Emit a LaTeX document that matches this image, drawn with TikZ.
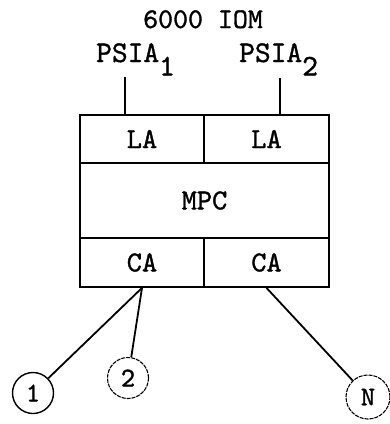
\documentclass[tikz,border=0pt]{standalone}
\usepackage{fontspec}
\setmainfont{lmmono10-regular.otf}[FakeBold=1.2]
\begin{document}
\begin{tikzpicture}[x=1pt,y=-1pt,
  cell/.style={draw,line width=1.8pt,rectangle,inner sep=0pt,font=\fontsize{29}{29}\selectfont},
  lbl/.style={inner sep=0pt,font=\fontsize{28.5}{28.5}\selectfont},
  wire/.style={line width=1.8pt},
  term/.style={circle,draw,line width=1.4pt,minimum size=41pt,inner sep=0pt,font=\fontsize{27}{27}\selectfont},
  faint/.style={dash pattern=on 4pt off 1pt,line width=1.1pt}]
\useasboundingbox (0,0) rectangle (390,424);
\node[lbl,anchor=base] (title) at (203,28) {6000 IOM};
\node[lbl,anchor=base west,font=\fontsize{30}{30}\selectfont] (psia1) at (96,62) {PSIA\raisebox{-0.45em}{1}};
\node[lbl,anchor=base west,font=\fontsize{30}{30}\selectfont] (psia2) at (239,62) {PSIA\raisebox{-0.45em}{2}};
\node[cell,minimum width=124pt,minimum height=48pt] (LA1) at (142,139) {LA};
\node[cell,minimum width=125pt,minimum height=48pt] (LA2) at (266.5,139) {LA};
\node[cell,minimum width=249pt,minimum height=75pt] (MPC) at (204.5,200.5) {MPC};
\node[cell,minimum width=124pt,minimum height=49pt] (CA1) at (142,262.5) {CA};
\node[cell,minimum width=125pt,minimum height=49pt] (CA2) at (266.5,262.5) {CA};
\coordinate (p1) at (125,77);
\coordinate (p2) at (280,78);
\draw[wire] (p1) -- (p1 |- LA1.north);
\draw[wire] (p2) -- (p2 |- LA2.north);
\node[term] (c1) at (33,393) {1};
\node[term,faint] (c2) at (128,378) {2};
\node[term,faint,minimum size=44pt] (cN) at (368,397) {N};
\draw[wire] (CA1.south) -- (c1);
\draw[wire] (CA1.south) -- (c2);
\draw[wire] (CA2.south) -- (cN);
\end{tikzpicture}
\end{document}
